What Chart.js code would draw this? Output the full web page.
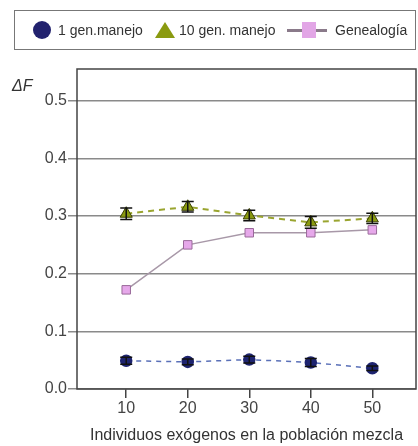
<!DOCTYPE html>
<html>
<head>
<meta charset="utf-8">
<script src="https://cdn.jsdelivr.net/npm/chart.js@4.4.1/dist/chart.umd.min.js"></script>
<style>
  html, body { margin: 0; padding: 0; background: #fff; }
  #wrap { position: relative; width: 418px; height: 446px; font-family: "Liberation Sans", Arial, sans-serif; }
  #legend {
    position: absolute; left: 14px; top: 10px; width: 402px; height: 40px;
    border: 1.5px solid #777; box-sizing: border-box;
  }
  .lg { position: absolute; }
  .txt { position: absolute; top: 21px; font-size: 14px; line-height: 18px; color: #333; white-space: nowrap; }
  .dot { left: 33px; top: 21px; width: 18px; height: 18px; border-radius: 50%; background: #22226e; }
  .tri { left: 155px; top: 22px; width: 0; height: 0; border-left: 10px solid transparent; border-right: 10px solid transparent;
         border-bottom: 16px solid #8a9a10; }
  .lin { left: 287px; top: 29px; width: 40px; height: 3px; background: #8a7a8a; }
  .sq { left: 302px; top: 22px; width: 14px; height: 16px; background: #e2a6e6; }
  #dtitle { position: absolute; left: 12px; top: 77px; font-size: 16px; font-style: italic; color: #333; }
  canvas { position: absolute; left: 0; top: 0; }
</style>
</head>
<body>
<div id="wrap">
  <canvas id="chart" width="418" height="446"></canvas>
  <div id="legend"></div>
  <div class="lg dot"></div><span class="txt" style="left:58px">1 gen.manejo</span>
  <div class="lg tri"></div><span class="txt" style="left:179px">10 gen. manejo</span>
  <div class="lg lin"></div><div class="lg sq"></div><span class="txt" style="left:335px">Genealogía</span>
  <div id="dtitle">ΔF</div>
</div>
<script>
// Data
const individuos = [10, 20, 30, 40, 50];
const gen1 = [0.049, 0.047, 0.051, 0.046, 0.036];
const gen1Err = [0.006, 0.005, 0.006, 0.007, 0.004];
const gen10 = [0.304, 0.316, 0.301, 0.289, 0.296];
const gen10Err = [0.010, 0.009, 0.009, 0.010, 0.009];
const genealogia = [0.172, 0.250, 0.271, 0.271, 0.276];
const yTicks = [0.0, 0.1, 0.2, 0.3, 0.4, 0.5];

function toPoints(ys) {
    return individuos.map((x, i) => ({ x: x, y: ys[i] }));
}

// Error bars drawn through the chart scales
const errorBars = {
    id: "errorBars",
    afterDatasetsDraw(chart) {
        const ctx = chart.ctx;
        const xs = chart.scales.x;
        const ys = chart.scales.y;
        chart.data.datasets.forEach(ds => {
            if (!ds.errors) return;
            ctx.save();
            ctx.strokeStyle = "#111";
            ctx.lineWidth = 1.5;
            ds.data.forEach((p, i) => {
                const px = xs.getPixelForValue(p.x);
                const top = ys.getPixelForValue(p.y + ds.errors[i]);
                const bot = ys.getPixelForValue(p.y - ds.errors[i]);
                ctx.beginPath();
                ctx.moveTo(px, top); ctx.lineTo(px, bot);
                ctx.moveTo(px - 6, top); ctx.lineTo(px + 6, top);
                ctx.moveTo(px - 6, bot); ctx.lineTo(px + 6, bot);
                ctx.stroke();
            });
            ctx.restore();
        });
    }
};

// Frame around the plot area
const frame = {
    id: "frame",
    afterDraw(chart) {
        const a = chart.chartArea;
        const ctx = chart.ctx;
        ctx.save();
        ctx.strokeStyle = "#444";
        ctx.lineWidth = 1.5;
        ctx.strokeRect(a.left, a.top, a.right - a.left, a.bottom - a.top);
        ctx.restore();
    }
};

const ctx = document.getElementById("chart").getContext("2d");
new Chart(ctx, {
    type: "line",
    data: {
        datasets: [
            {
                label: "1 gen.manejo",
                data: toPoints(gen1),
                errors: gen1Err,
                borderColor: "#5a70b8",
                borderWidth: 1.5,
                borderDash: [5, 5],
                pointStyle: "circle",
                pointRadius: 5.5,
                pointBackgroundColor: "#1e2470",
                pointBorderColor: "#1e2470",
                order: 3
            },
            {
                label: "10 gen. manejo",
                data: toPoints(gen10),
                errors: gen10Err,
                borderColor: "#9aa530",
                borderWidth: 2,
                borderDash: [6, 5],
                pointStyle: "triangle",
                pointRadius: 7,
                pointBackgroundColor: "#8a9a10",
                pointBorderColor: "#3a4000",
                pointBorderWidth: 1,
                order: 2
            },
            {
                label: "Genealogía",
                data: toPoints(genealogia),
                borderColor: "#a898a8",
                borderWidth: 1.5,
                pointStyle: "rect",
                pointRadius: 6,
                pointBackgroundColor: "#e6a8ea",
                pointBorderColor: "#9a6a9a",
                pointBorderWidth: 1,
                order: 1
            }
        ]
    },
    options: {
        responsive: false,
        animation: false,
        layout: { autoPadding: false, padding: { top: 69, right: 2, left: 0, bottom: 0 } },
        plugins: {
            legend: { display: false },
            tooltip: { enabled: false }
        },
        scales: {
            x: {
                type: "linear",
                min: 2,
                max: 57.1,
                afterBuildTicks: scale => { scale.ticks = individuos.map(v => ({ value: v })); },
                afterFit: scale => {
                    scale.height = 57;
                    scale.paddingLeft = 0;
                    scale.paddingRight = 0;
                },
                grid: { drawOnChartArea: false, drawTicks: true, tickLength: 9, color: "#444", lineWidth: 1.5 },
                border: { display: false },
                ticks: { color: "#444", font: { family: "Liberation Sans", size: 16 }, padding: 1, maxRotation: 0 },
                title: {
                    display: true,
                    text: "Individuos exógenos en la población mezcla",
                    color: "#333",
                    font: { family: "Liberation Sans", size: 16 },
                    padding: { top: 0, bottom: 1 }
                }
            },
            y: {
                min: 0,
                max: 0.555,
                afterBuildTicks: scale => { scale.ticks = yTicks.map(v => ({ value: v })); },
                afterFit: scale => { scale.width = 77; },
                grid: { color: "#8a8a8a", lineWidth: 1.5, tickLength: 9, drawTicks: true },
                border: { display: false },
                ticks: {
                    color: "#444",
                    font: { family: "Liberation Sans", size: 16 },
                    padding: 1,
                    callback: v => v.toFixed(1)
                }
            }
        }
    },
    plugins: [errorBars, frame]
});
</script>
</body>
</html>
